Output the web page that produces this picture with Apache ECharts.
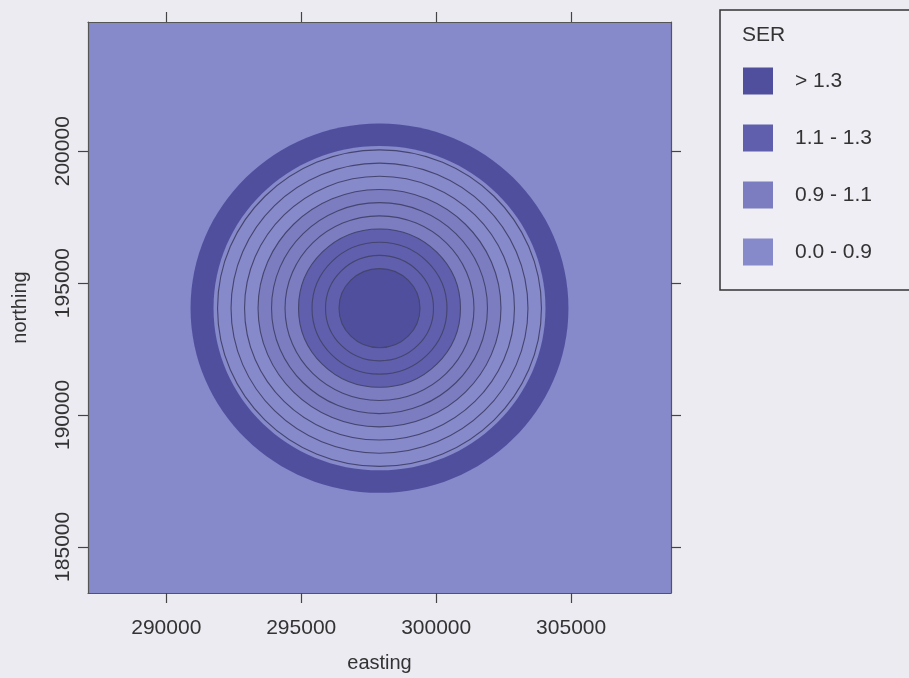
<!DOCTYPE html>
<html>
<head>
<meta charset="utf-8">
<script src="https://cdn.jsdelivr.net/npm/echarts@6/dist/echarts.min.js"></script>
<style>
html,body{margin:0;padding:0;background:#ecebf2;}
#c{width:909px;height:678px;}
</style>
</head>
<body>
<div id="c"></div>
<script>
// ---- data ----
const levels = ['> 1.3', '1.1 - 1.3', '0.9 - 1.1', '0.0 - 0.9'];
const xTicks = [290000, 295000, 300000, 305000];
const yTicks = [185000, 190000, 195000, 200000];
const center = [297900, 194050];
// filled zones: outer radius (m) and SER level index (drawn largest first)
const zoneRadii = [7000, 6150, 4500, 3000, 1500];
const zoneLevel = [0, 3, 2, 1, 0];
// contour line radii (m)
const contourRadii = [1500, 2000, 2500, 3000, 3500, 4000, 4500, 5000, 5500, 6000];

// ---- styles ----
const levelColors = ['#4f4f9e', '#5f5fad', '#7b7dc0', '#8689ca'];
const xRange = [287100, 308700];
const yRange = [183250, 204900];
const txt = '#333333';
const font = 'Liberation Sans, Arial, sans-serif';

const chart = echarts.init(document.getElementById('c'));

function ellipseFor(params, api, styleFn) {
  const cx = api.value(0), cy = api.value(1), r = api.value(2);
  const c = api.coord([cx, cy]);
  const px = api.coord([cx + r, cy]);
  const py = api.coord([cx, cy + r]);
  return {
    type: 'ellipse',
    shape: {cx: c[0], cy: c[1], rx: Math.abs(px[0] - c[0]), ry: Math.abs(py[1] - c[1])},
    style: styleFn(api)
  };
}

const zoneData = zoneRadii.map((r, i) => [center[0], center[1], r, zoneLevel[i]]);
const lineData = contourRadii.map(r => [center[0], center[1], r]);

const axisCommon = {
  type: 'value',
  splitLine: {show: false},
  axisLine: {show: true, onZero: false, lineStyle: {color: '#555', width: 1.2}},
  axisTick: {show: true, inside: false, length: 10, lineStyle: {color: '#444', width: 1.2}},
};
const plain = v => String(Math.round(v));

// legend graphics
const legendGraphics = [
  {type: 'rect', shape: {x: 720, y: 10, width: 200, height: 280}, style: {fill: '#efeef4', stroke: '#333', lineWidth: 1.5}, z: 10},
  {type: 'text', x: 742, y: 35, style: {text: 'SER', fill: txt, font: '21px ' + font, textVerticalAlign: 'middle'}, z: 11}
];
levels.forEach((lv, i) => {
  const yc = 81 + i * 57;
  legendGraphics.push({type: 'rect', shape: {x: 743, y: yc - 13.5, width: 30, height: 27}, style: {fill: levelColors[i]}, z: 11});
  legendGraphics.push({type: 'text', x: 795, y: yc, style: {text: lv, fill: txt, font: '21px ' + font, textVerticalAlign: 'middle'}, z: 11});
});

chart.setOption({
  animation: false,
  backgroundColor: '#ecebf2',
  grid: {left: 88, right: 238, top: 22, bottom: 85, show: true, backgroundColor: levelColors[3], borderWidth: 0,
         containLabel: false, outerBoundsMode: 'none'},
  xAxis: [
    Object.assign({}, axisCommon, {
      min: xRange[0], max: xRange[1], position: 'bottom',
      name: 'easting', nameLocation: 'middle', nameGap: 60,
      nameTextStyle: {color: txt, fontSize: 20, fontFamily: font},
      axisTick: Object.assign({}, axisCommon.axisTick, {customValues: xTicks}),
      axisLabel: {customValues: xTicks, formatter: plain, color: txt, fontSize: 21, fontFamily: font, margin: 25}
    }),
    Object.assign({}, axisCommon, {
      min: xRange[0], max: xRange[1], position: 'top',
      axisTick: Object.assign({}, axisCommon.axisTick, {customValues: xTicks}),
      axisLabel: {show: false}
    })
  ],
  yAxis: [
    Object.assign({}, axisCommon, {
      min: yRange[0], max: yRange[1], position: 'left',
      name: 'northing', nameLocation: 'middle', nameGap: 58,
      nameTextStyle: {color: txt, fontSize: 20, fontFamily: font},
      axisTick: Object.assign({}, axisCommon.axisTick, {customValues: yTicks}),
      axisLabel: {customValues: yTicks, formatter: plain, rotate: 90, color: txt, fontSize: 21, fontFamily: font, margin: 14}
    }),
    Object.assign({}, axisCommon, {
      min: yRange[0], max: yRange[1], position: 'right',
      axisTick: Object.assign({}, axisCommon.axisTick, {customValues: yTicks}),
      axisLabel: {show: false}
    })
  ],
  graphic: legendGraphics,
  series: [
    {
      type: 'custom', name: 'zones', clip: true,
      encode: {x: 0, y: 1},
      data: zoneData,
      renderItem: (p, api) => ellipseFor(p, api, a => ({fill: levelColors[a.value(3)]}))
    },
    {
      type: 'custom', name: 'contours', clip: true,
      encode: {x: 0, y: 1},
      data: lineData,
      renderItem: (p, api) => ellipseFor(p, api, a => ({fill: 'none', stroke: '#45456f', lineWidth: 1.1}))
    }
  ]
});
</script>
</body>
</html>
